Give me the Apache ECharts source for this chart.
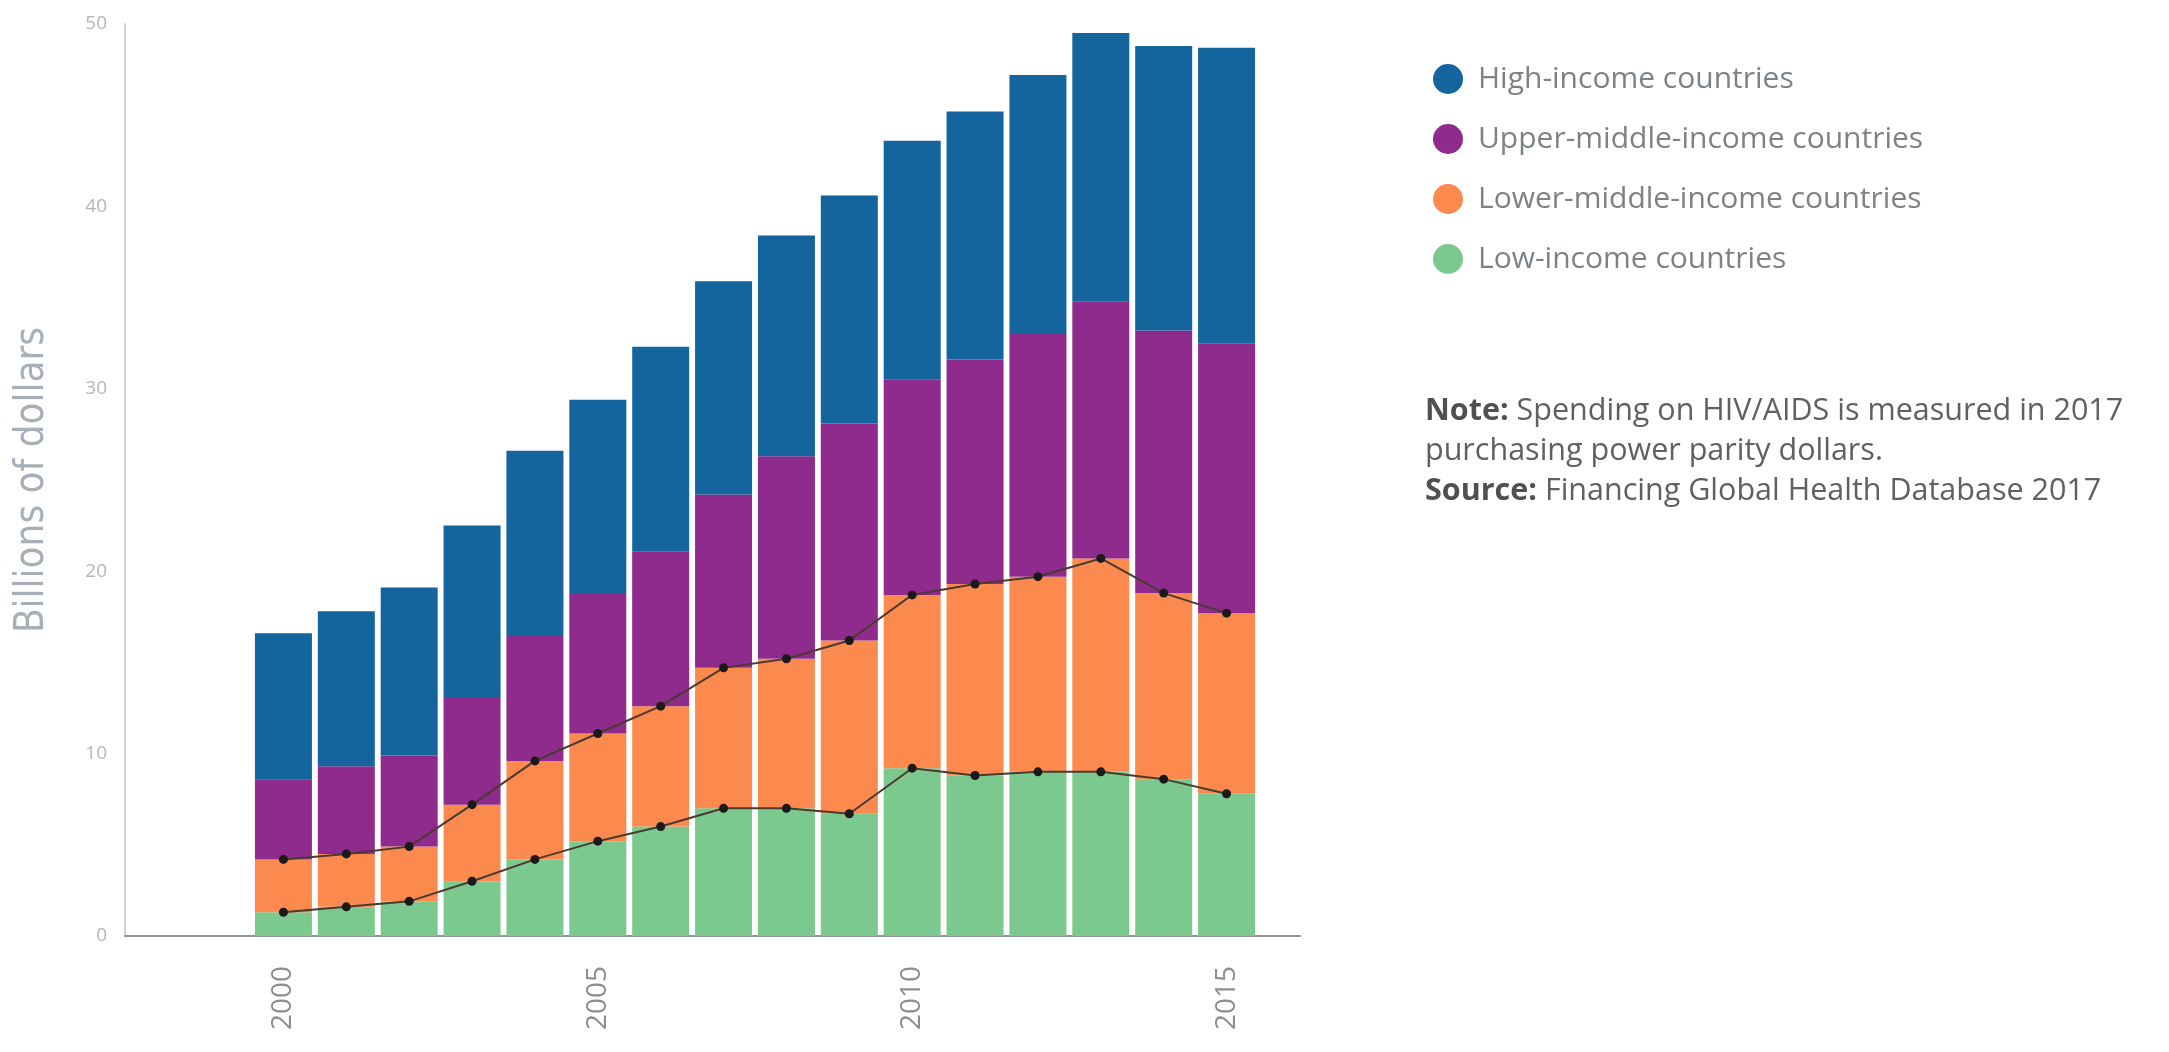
<!DOCTYPE html>
<html>
<head>
<meta charset="utf-8">
<script src="https://cdn.jsdelivr.net/npm/echarts@6/dist/echarts.min.js"></script>
<style>
html,body{margin:0;padding:0;background:#fff;}
#chart{width:2169px;height:1052px;}
</style>
</head>
<body>
<div id="chart"></div>
<script>
// ---- data (billions of 2017 PPP dollars) ----
var years = ['2000','2001','2002','2003','2004','2005','2006','2007','2008','2009','2010','2011','2012','2013','2014','2015'];
var lowIncome      = [1.3,1.6,1.9,3.0,4.2,5.2,6.0,7.0,7.0,6.7,9.2,8.8,9.0,9.0,8.6,7.8];
var lowerMiddle    = [2.9,2.9,3.0,4.2,5.4,5.9,6.6,7.7,8.2,9.5,9.5,10.5,10.7,11.7,10.2,9.9];
var upperMiddle    = [4.4,4.8,5.0,5.9,6.9,7.7,8.5,9.5,11.1,11.9,11.8,12.3,13.3,14.1,14.4,14.8];
var highIncome     = [8.0,8.5,9.2,9.4,10.1,10.6,11.2,11.7,12.1,12.5,13.1,13.6,14.2,14.7,15.6,16.2];
var xTickLabels    = ['2000','2005','2010','2015'];
var seriesNames    = ['Low-income countries','Lower-middle-income countries','Upper-middle-income countries','High-income countries'];
var seriesColors   = ['#7cc98f','#fc8a4f','#8e2b8d','#14659e'];

function cum(a,b){ return a.map(function(v,i){ return +(v + b[i]).toFixed(2); }); }
var lowTop = lowIncome;
var lowerMidTop = cum(lowIncome, lowerMiddle);

var barData = [lowIncome, lowerMiddle, upperMiddle, highIncome];
var series = barData.map(function(arr, k){
  return {
    name: seriesNames[k], type: 'bar', stack: 'total', barWidth: 57,
    xAxisIndex: 0, yAxisIndex: 0,
    itemStyle: { color: seriesColors[k] },
    data: arr, z: 2
  };
});
[lowTop, lowerMidTop].forEach(function(arr, k){
  series.push({
    name: 'line' + k, type: 'line', data: arr, z: 5,
    xAxisIndex: 0, yAxisIndex: 0,
    symbol: 'circle', symbolSize: 9,
    itemStyle: { color: '#1a1a1a' },
    lineStyle: { color: '#4a3a30', width: 2 }
  });
});

var chart = echarts.init(document.getElementById('chart'));
chart.setOption({
  animation: false,
  backgroundColor: '#ffffff',
  grid: [
    { left: 252, right: 911, top: 24, bottom: 116, containLabel: false },
    { left: 125, right: 869, top: 24, bottom: 116, containLabel: false }
  ],
  xAxis: [
    {
      type: 'category', gridIndex: 0, data: years, boundaryGap: true,
      axisLine: { show: false }, axisTick: { show: false }, splitLine: { show: false },
      axisLabel: {
        interval: function(i, v){ return xTickLabels.indexOf(v) >= 0; },
        rotate: 90, margin: 30,
        color: '#8a8f92', fontSize: 28, fontFamily: 'Open Sans'
      }
    },
    {
      type: 'value', gridIndex: 1, min: 0, max: 1,
      splitLine: { show: false }, axisTick: { show: false }, axisLabel: { show: false },
      axisLine: { show: true, lineStyle: { color: '#8f9496', width: 2 } }
    }
  ],
  yAxis: [
    {
      type: 'value', gridIndex: 0, min: 0, max: 50, interval: 10, show: false
    },
    {
      type: 'value', gridIndex: 1, min: 0, max: 50, interval: 10,
      splitLine: { show: false },
      axisTick: { show: false },
      axisLine: { show: true, lineStyle: { color: '#cfd2d4', width: 2 } },
      axisLabel: { color: '#b3b6b8', fontSize: 19, margin: 18, fontFamily: 'Open Sans' },
      name: 'Billions of dollars', nameLocation: 'middle', nameGap: 72,
      nameTextStyle: { color: '#a7b0b8', fontSize: 40, fontFamily: "'DejaVu Sans Condensed', Roboto, sans-serif", fontWeight: 300 }
    }
  ],
  legend: {
    orient: 'vertical', left: 1428, top: 59,
    itemWidth: 30, itemHeight: 30, itemGap: 30, icon: 'circle',
    data: [seriesNames[3], seriesNames[2], seriesNames[1], seriesNames[0]],
    textStyle: { color: '#7d8286', fontSize: 30, fontFamily: 'Open Sans', padding: [0,0,0,10] }
  },
  graphic: [
    {
      type: 'text', left: 1425, top: 391,
      style: {
        text: '{b|Note:} Spending on HIV/AIDS is measured in 2017\npurchasing power parity dollars.',
        fill: '#5d6164', fontSize: 30.5, fontFamily: 'Open Sans', lineHeight: 40,
        rich: { b: { fontWeight: 'bold', fill: '#4d5154', fontSize: 30.5, fontFamily: 'Open Sans', lineHeight: 40 } }
      }
    },
    {
      type: 'text', left: 1425, top: 471,
      style: {
        text: '{b|Source:} Financing Global Health Database 2017',
        fill: '#5d6164', fontSize: 30.5, fontFamily: 'Open Sans', lineHeight: 40,
        rich: { b: { fontWeight: 'bold', fill: '#4d5154', fontSize: 30.5, fontFamily: 'Open Sans', lineHeight: 40 } }
      }
    }
  ],
  series: series
});
</script>
</body>
</html>
